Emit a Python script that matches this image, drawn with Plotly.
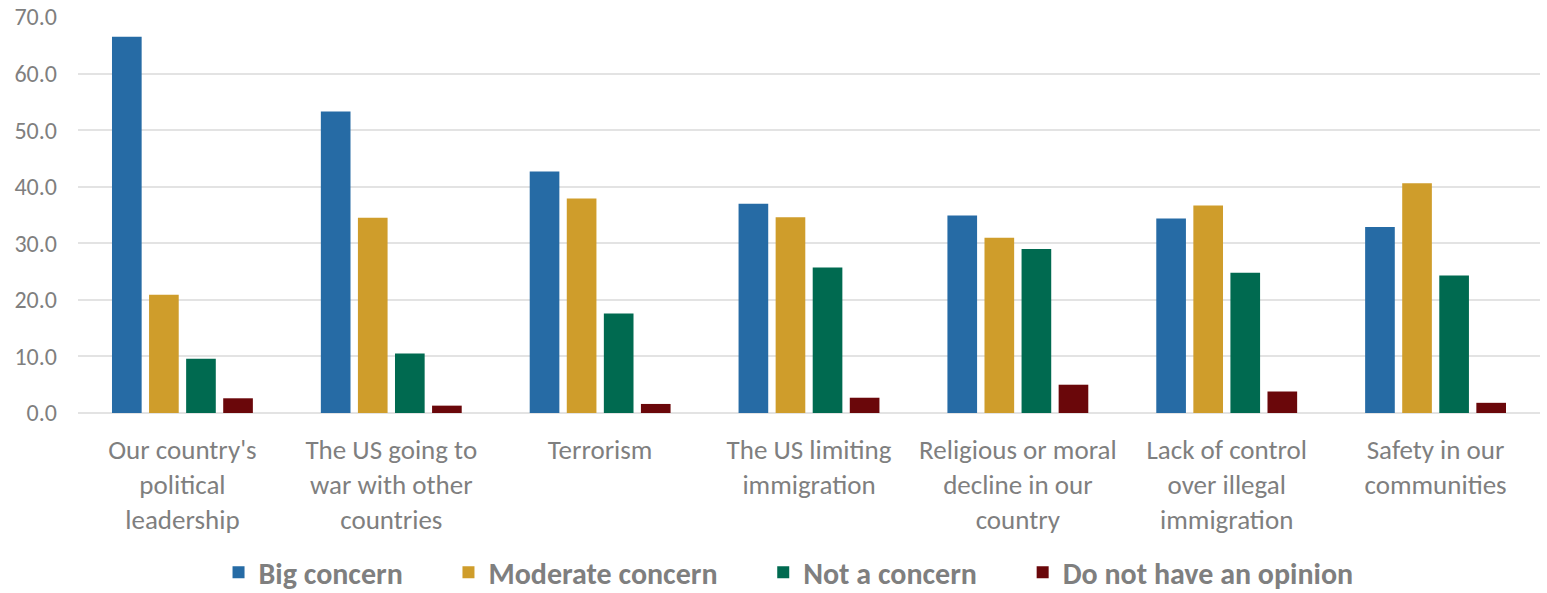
import plotly.graph_objects as go

categories = [
    "Our country's<br>political<br>leadership",
    "The US going to<br>war with other<br>countries",
    "Terrorism",
    "The US limiting<br>immigration",
    "Religious or moral<br>decline in our<br>country",
    "Lack of control<br>over illegal<br>immigration",
    "Safety in our<br>communities",
]
big_concern = [66.5, 53.3, 42.7, 37.0, 34.9, 34.4, 32.9]
moderate_concern = [20.9, 34.5, 37.9, 34.6, 31.0, 36.7, 40.6]
not_a_concern = [9.6, 10.5, 17.6, 25.7, 29.0, 24.8, 24.3]
no_opinion = [2.6, 1.3, 1.6, 2.7, 5.0, 3.8, 1.8]
y_ticks = [0, 10, 20, 30, 40, 50, 60, 70]

series = [
    ("Big concern", big_concern, "#266BA5"),
    ("Moderate concern", moderate_concern, "#CF9D2B"),
    ("Not a concern", not_a_concern, "#006A50"),
    ("Do not have an opinion", no_opinion, "#6A070A"),
]

font_family = "Carlito, Lato, 'Open Sans', sans-serif"
pad = "\u00a0" * 6

fig = go.Figure()
for i, (name, vals, color) in enumerate(series):
    fig.add_trace(go.Bar(
        x=categories, y=vals,
        name=name + (pad if i < len(series) - 1 else ""),
        marker=dict(color=color, line=dict(width=0)),
    ))

fig.update_layout(
    width=1547, height=593,
    paper_bgcolor="white", plot_bgcolor="white",
    margin=dict(l=78, r=7, t=17, b=180, autoexpand=False),
    barmode="group", bargap=0.29, bargroupgap=0.20,
    font=dict(family=font_family, color="#7F7F7F"),
    showlegend=True,
    legend=dict(
        orientation="h", x=0.486, xanchor="center", y=-0.468, yanchor="bottom",
        font=dict(size=30, color="#7F7F7F", family=font_family, weight="bold"),
        itemwidth=30, tracegroupgap=0,
    ),
    xaxis=dict(
        tickfont=dict(size=27, color="#7F7F7F"),
        showgrid=False, showline=False, ticks="",
        ticklabelstandoff=18, automargin=False,
    ),
    yaxis=dict(
        range=[0, 70], tickvals=y_ticks,
        tickformat=".1f",
        tickfont=dict(size=24, color="#7F7F7F"),
        showgrid=True, gridcolor="#E3E3E3", gridwidth=1.5,
        zeroline=True, zerolinecolor="#E3E3E3", zerolinewidth=1.5,
        showline=False, ticks="", ticklabelstandoff=20, automargin=False,
    ),
)

fig.write_html("out.html", config={"displayModeBar": False},
               post_script="document.body.style.margin='0px';")
